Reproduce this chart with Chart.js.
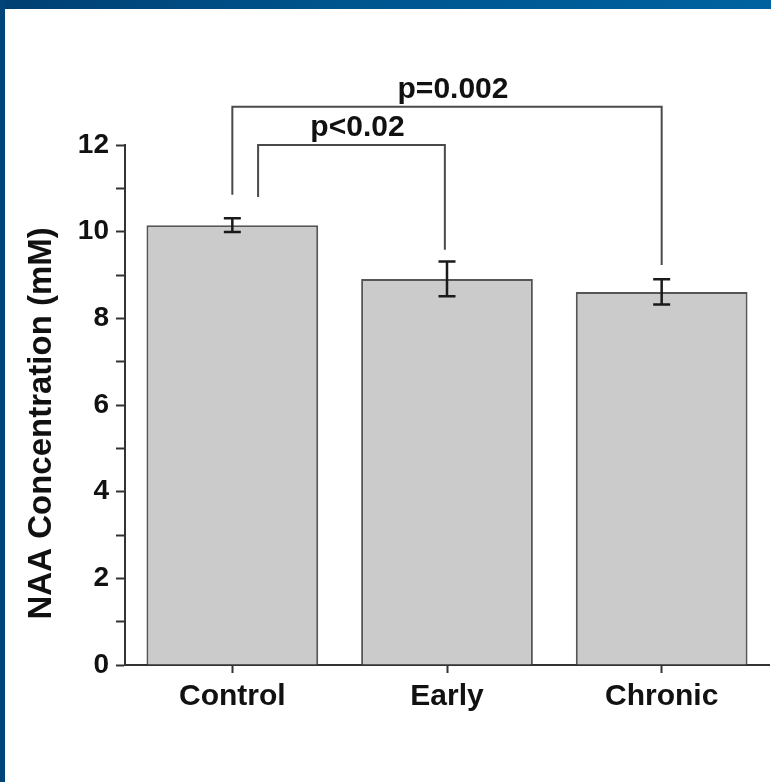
<!DOCTYPE html>
<html>
<head>
<meta charset="utf-8">
<script src="https://cdn.jsdelivr.net/npm/chart.js@4.4.1/dist/chart.umd.min.js"></script>
<style>
    body { margin: 0; background: #fff; }
    #wrap { position: relative; width: 771px; height: 782px; overflow: hidden; background: #fff; }
    #topBar { position: absolute; left: 0; top: 0; width: 771px; height: 9px;
        background: linear-gradient(to right, #003f72 0%, #00558e 45%, #0062a0 100%); }
    #leftBar { position: absolute; left: 0; top: 0; width: 5px; height: 782px; background: #00457a; }
    canvas { position: absolute; left: 0; top: 0; }
</style>
</head>
<body>
<div id="wrap">
    <canvas id="naaChart" width="771" height="782"></canvas>
    <div id="topBar"></div>
    <div id="leftBar"></div>
</div>
<script>
var groups = ['Control', 'Early', 'Chronic'];
var naaMeans = [10.15, 8.91, 8.61];
var naaErrors = [0.16, 0.40, 0.29];

// significance brackets: from/to group index, small offset within the category, bracket level, leg ends
var bracketLabels = ['p=0.002', 'p<0.02'];
var bracketFrom = [0, 0];
var bracketTo = [2, 1];
var bracketFromShift = [0, 0.12];
var bracketToShift = [0, -0.01];
var bracketLevel = [12.88, 12.0];
var bracketFromEnd = [10.85, 10.8];
var bracketToEnd = [9.23, 9.58];

var FONT = '"Liberation Sans", Arial, Helvetica, sans-serif';

function catPixel(xScale, idx, shift) {
    var step = xScale.getPixelForValue(1) - xScale.getPixelForValue(0);
    return xScale.getPixelForValue(idx) + shift * step;
}

var errorBarPlugin = {
    id: 'errorBars',
    afterDatasetsDraw: function (chart) {
        var ctx = chart.ctx;
        var x = chart.scales.x;
        var y = chart.scales.y;
        ctx.save();
        ctx.strokeStyle = '#1a1a1a';
        ctx.lineWidth = 2.5;
        for (var i = 0; i < naaMeans.length; i++) {
            var cx = x.getPixelForValue(i);
            var top = y.getPixelForValue(naaMeans[i] + naaErrors[i]);
            var bot = y.getPixelForValue(naaMeans[i] - naaErrors[i]);
            ctx.beginPath();
            ctx.moveTo(cx, top); ctx.lineTo(cx, bot);
            ctx.moveTo(cx - 8.5, top); ctx.lineTo(cx + 8.5, top);
            ctx.moveTo(cx - 8.5, bot); ctx.lineTo(cx + 8.5, bot);
            ctx.stroke();
        }
        ctx.restore();
    }
};

var bracketPlugin = {
    id: 'sigBrackets',
    afterDraw: function (chart) {
        var ctx = chart.ctx;
        var x = chart.scales.x;
        var y = chart.scales.y;
        ctx.save();
        ctx.strokeStyle = '#4a4a4a';
        ctx.lineWidth = 2;
        ctx.fillStyle = '#111';
        ctx.font = 'bold 30px ' + FONT;
        ctx.textAlign = 'center';
        ctx.textBaseline = 'bottom';
        for (var i = 0; i < bracketLabels.length; i++) {
            var x1 = catPixel(x, bracketFrom[i], bracketFromShift[i]);
            var x2 = catPixel(x, bracketTo[i], bracketToShift[i]);
            var yl = y.getPixelForValue(bracketLevel[i]);
            ctx.beginPath();
            ctx.moveTo(x1, y.getPixelForValue(bracketFromEnd[i]));
            ctx.lineTo(x1, yl);
            ctx.lineTo(x2, yl);
            ctx.lineTo(x2, y.getPixelForValue(bracketToEnd[i]));
            ctx.stroke();
            ctx.fillText(bracketLabels[i], (x1 + x2) / 2 + 6, yl - 2);
        }
        ctx.restore();
    }
};

new Chart(document.getElementById('naaChart'), {
    type: 'bar',
    data: {
        labels: groups,
        datasets: [{
            label: 'NAA',
            data: naaMeans,
            backgroundColor: '#cbcbcb',
            borderColor: '#555555',
            borderWidth: 2,
            barPercentage: 0.8,
            categoryPercentage: 1.0
        }]
    },
    options: {
        responsive: false,
        animation: false,
        layout: { padding: { left: 0, top: 145, right: 2, bottom: 0 } },
        plugins: {
            legend: { display: false },
            tooltip: { enabled: false }
        },
        scales: {
            x: {
                afterFit: function (scale) { scale.height = 117; },
                grid: {
                    offset: false,
                    drawOnChartArea: false,
                    drawTicks: true,
                    tickLength: 8,
                    tickWidth: 2,
                    tickColor: '#333'
                },
                border: { color: '#333', width: 2 },
                ticks: {
                    color: '#111',
                    padding: 6,
                    font: { family: FONT, size: 30, weight: 'bold' }
                }
            },
            y: {
                min: 0,
                max: 12,
                afterFit: function (scale) { scale.width = 125; },
                grid: {
                    drawOnChartArea: false,
                    tickLength: 9,
                    tickWidth: 2,
                    tickColor: '#333'
                },
                border: { color: '#333', width: 2 },
                ticks: {
                    stepSize: 1,
                    color: '#111',
                    padding: 7,
                    font: { family: FONT, size: 28, weight: 'bold' },
                    callback: function (v) { return v % 2 === 0 ? v : ''; }
                },
                title: {
                    display: true,
                    // trailing spaces push the visible text a little lower, like the original
                    text: 'NAA Concentration (mM)    ',
                    color: '#111',
                    padding: { top: 22, bottom: 0 },
                    font: { family: FONT, size: 33, weight: 'bold' }
                }
            }
        }
    },
    plugins: [errorBarPlugin, bracketPlugin]
});
</script>
</body>
</html>
